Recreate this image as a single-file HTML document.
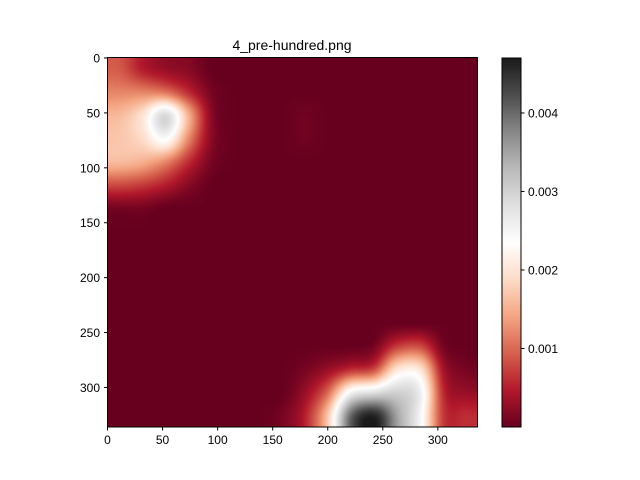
<!DOCTYPE html>
<html><head><meta charset="utf-8"><style>
body{margin:0;background:#fff;width:640px;height:480px;overflow:hidden;position:relative}
text{font-family:"Liberation Sans","DejaVu Sans",sans-serif;fill:#000}
#hm{position:absolute;left:108px;top:58px;width:370px;height:369px}
svg{position:absolute;left:0;top:0}
</style></head><body>
<canvas id="hm" width="370" height="369"></canvas>
<svg id="c" width="640" height="480">
<defs>
<linearGradient id="cg" x1="0" y1="1" x2="0" y2="0">
<stop offset="0" stop-color="#67001f"/><stop offset="0.1" stop-color="#b2182b"/><stop offset="0.2" stop-color="#d6604d"/><stop offset="0.3" stop-color="#f4a582"/><stop offset="0.4" stop-color="#fddbc7"/><stop offset="0.5" stop-color="#ffffff"/><stop offset="0.6" stop-color="#e0e0e0"/><stop offset="0.7" stop-color="#bababa"/><stop offset="0.8" stop-color="#878787"/><stop offset="0.9" stop-color="#4d4d4d"/><stop offset="1" stop-color="#1a1a1a"/>
</linearGradient>
</defs>
<text x="292" y="50" font-size="14" text-anchor="middle">4_pre-hundred.png</text>
<rect x="107.5" y="57.5" width="370" height="369.5" fill="none" stroke="#000" stroke-width="1"/>
<g id="axes"></g>
<rect x="502" y="58" width="19" height="369" fill="url(#cg)" stroke="#000" stroke-width="1"/>
</svg>
<script>
const extent = 336;
const vmin = 0, vmax = 0.0047;
const xTicks = [0,50,100,150,200,250,300];
const yTicks = [0,50,100,150,200,250,300];
const cbTicks = [0.001,0.002,0.003,0.004];
const cbLabels = ["0.001","0.002","0.003","0.004"];
const grid = [
[0.0009,0.0005,0.0003,0.0002,0,0,0,0,0,0,0,0,0,0,0,0],
[0.0012,0.0012,0.0011,0.0006,0.0001,0,0,0,0,0,0,0,0,0,0,0],
[0.0016,0.0020,0.0029,0.0015,0.0002,0,0,0,0.00005,0,0,0,0,0,0,0],
[0.0017,0.0019,0.0024,0.0012,0.0002,0,0,0,0.00005,0,0,0,0,0,0,0],
[0.0016,0.0015,0.0012,0.0006,0.0001,0,0,0,0,0,0,0,0,0,0,0],
[0.0008,0.0007,0.0005,0.0002,0,0,0,0,0,0,0,0,0,0,0,0],
[0.0001,0.0001,0,0,0,0,0,0,0,0,0,0,0,0,0,0],
[0,0,0,0,0,0,0,0,0,0,0,0,0,0,0,0],
[0,0,0,0,0,0,0,0,0,0,0,0,0,0,0,0],
[0,0,0,0,0,0,0,0,0,0,0,0,0,0,0,0],
[0,0,0,0,0,0,0,0,0,0,0,0,0,0,0,0],
[0,0,0,0,0,0,0,0,0,0,0,0,0,0,0,0],
[0,0,0,0,0,0,0,0,0,0,0,0.0001,0.0007,0.0008,0.0001,0],
[0,0,0,0,0,0,0,0,0.0001,0.0003,0.0006,0.0008,0.0020,0.0020,0.0004,0.0001],
[0,0,0,0,0,0,0,0,0.0003,0.0010,0.0025,0.0028,0.0030,0.0026,0.0006,0.0003],
[0,0,0,0,0,0,0,0.0001,0.0005,0.0017,0.0040,0.0046,0.0035,0.0025,0.0007,0.0006]
];
const stops=["#67001f","#b2182b","#d6604d","#f4a582","#fddbc7","#ffffff","#e0e0e0","#bababa","#878787","#4d4d4d","#1a1a1a"];
const X0=107.5,Y0=58,W=370,H=369;
const sx=v=>X0+v/extent*W, sy=v=>Y0+v/extent*H;
const cy=v=>427-(v-vmin)/(vmax-vmin)*369;
const stopRGB=stops.map(h=>[1,3,5].map(i=>parseInt(h.substr(i,2),16)));
function cmap(v){let t=Math.max(0,Math.min(1,(v-vmin)/(vmax-vmin)))*10;let i=Math.min(9,Math.floor(t)),f=t-i;
 const a=stopRGB[i],b=stopRGB[i+1];return a.map((x,k)=>Math.round(x+(b[k]-x)*f));}
const nr=grid.length, nc=grid[0].length;
function g(r,c){r=Math.max(0,Math.min(nr-1,r));c=Math.max(0,Math.min(nc-1,c));return grid[r][c];}
function cr(p0,p1,p2,p3,t){return p1+0.5*t*(p2-p0+t*(2*p0-5*p1+4*p2-p3+t*(3*(p1-p2)+p3-p0)));}
function sample(fr,fc){const r=Math.floor(fr),c=Math.floor(fc),tr=fr-r,tc=fc-c;const rows=[];
 for(let i=-1;i<=2;i++)rows.push(cr(g(r+i,c-1),g(r+i,c),g(r+i,c+1),g(r+i,c+2),tc));
 return Math.max(0,cr(rows[0],rows[1],rows[2],rows[3],tr));}
const cv=document.getElementById('hm'),ctx=cv.getContext('2d');
const img=ctx.createImageData(cv.width,cv.height);
for(let py=0;py<cv.height;py++){for(let px=0;px<cv.width;px++){
 const dx=(px+0.5)/cv.width*extent, dy=(py+0.5)/cv.height*extent;
 const v=sample(dy/(extent/nr)-0.5, dx/(extent/nc)-0.5);
 const col=cmap(v);const o=(py*cv.width+px)*4;
 img.data[o]=col[0];img.data[o+1]=col[1];img.data[o+2]=col[2];img.data[o+3]=255;}}
ctx.putImageData(img,0,0);
const NS="http://www.w3.org/2000/svg";
const axes=document.getElementById('axes');
function mk(tag,attrs,txt){const e=document.createElementNS(NS,tag);for(const k in attrs)e.setAttribute(k,attrs[k]);if(txt!==undefined)e.textContent=txt;axes.appendChild(e);return e;}
xTicks.forEach(t=>{
 const l=mk('line',{x1:sx(t),x2:sx(t),y1:427,y2:430.5,stroke:'#000'});
 
 
 const tx=mk('text',{x:sx(t),y:444,'font-size':12,'text-anchor':'middle'},t);
 
 
});
yTicks.forEach(t=>{
 const l=mk('line',{x1:104,x2:107.5,y1:sy(t),y2:sy(t),stroke:'#000'});
 
 
 const tx=mk('text',{x:100,y:sy(t)+4.5,'font-size':12,'text-anchor':'end'},t);
 
 
});
cbTicks.forEach((t,i)=>{
 const l=mk('line',{x1:521,x2:524.5,y1:cy(t),y2:cy(t),stroke:'#000'});
 
 
 const tx=mk('text',{x:528,y:cy(t)+4.5,'font-size':12},cbLabels[i]);
 
 
});
</script>
</body></html>
